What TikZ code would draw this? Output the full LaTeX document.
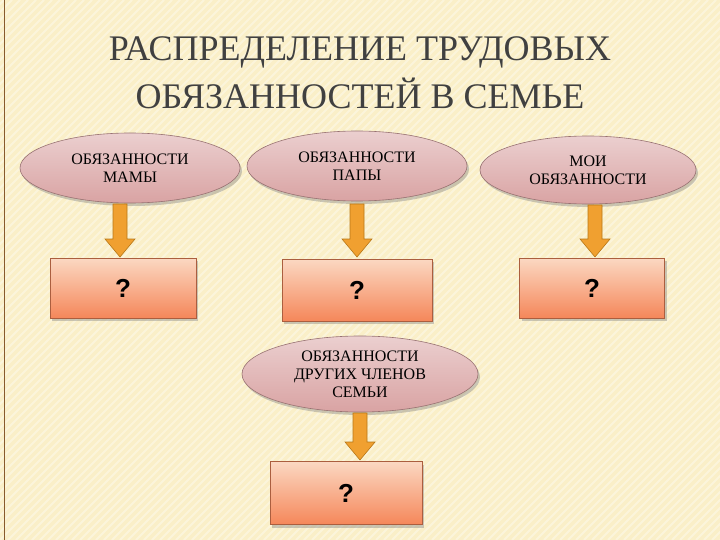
\documentclass[tikz,border=0pt]{standalone}
\usepackage{fontspec}
\setmainfont{Liberation Serif}
\newfontfamily\qfont{Liberation Sans}
\usetikzlibrary{shapes.geometric,shadows}
\definecolor{bg}{HTML}{FAEFC8}
\definecolor{ellA}{HTML}{EBCFCF}
\definecolor{ellB}{HTML}{D9A3A3}
\definecolor{boxA}{HTML}{FBD8C2}
\definecolor{boxB}{HTML}{F5875A}
\definecolor{arr}{HTML}{F0A030}
\definecolor{arrd}{HTML}{B87818}
\tikzset{
  ell/.style={ellipse, draw=ellB!70!black, line width=0.6pt, top color=ellA, bottom color=ellB,
    drop shadow={shadow xshift=2pt,shadow yshift=-3pt,opacity=0.4},
    align=center, font=\fontsize{16}{18}\selectfont, inner sep=0pt},
  qbox/.style={rectangle, draw=boxB!70!black, line width=0.6pt, top color=boxA, bottom color=boxB,
    drop shadow={shadow xshift=2pt,shadow yshift=-3pt,opacity=0.4},
    font=\qfont\bfseries\fontsize{26}{28}\selectfont},
  bigarr/.style={fill=arr, draw=arrd, line width=0.6pt}
}
\newcommand{\downarr}[3]{% x, ytop, ybottom
  \draw[bigarr] (#1-7,#2) -- (#1+7,#2) -- (#1+7,#3-18) -- (#1+15,#3-18) -- (#1,#3) -- (#1-15,#3-18) -- (#1-7,#3-18) -- cycle;}
\begin{document}
\begin{tikzpicture}[x=1pt,y=-1pt]
\useasboundingbox (0,0) rectangle (720,540);
\fill[bg] (0,0) rectangle (720,540);
\begin{scope}
\clip (0,0) rectangle (720,540);
\foreach \i in {-600,-592,...,720} \draw[white,opacity=0.35,line width=2pt] (\i,540) -- (\i+540,0);
\end{scope}
\draw[brown!70!black,line width=1pt] (4,0) -- (4,540);
\node[font=\fontsize{36}{48}\selectfont, align=center, text=black!75] (title) at (360,73)
  {РАСПРЕДЕЛЕНИЕ ТРУДОВЫХ\\ОБЯЗАННОСТЕЙ В СЕМЬЕ};
\node[ell, minimum width=220pt, minimum height=70pt] (m) at (130,168) {ОБЯЗАННОСТИ\\МАМЫ};
\node[ell, minimum width=220pt, minimum height=70pt] (p) at (357,166) {ОБЯЗАННОСТИ\\ПАПЫ};
\node[ell, minimum width=216pt, minimum height=68pt] (me) at (588,170) {МОИ\\ОБЯЗАННОСТИ};
\node[ell, minimum width=236pt, minimum height=76pt] (o) at (360,374) {ОБЯЗАННОСТИ\\ДРУГИХ ЧЛЕНОВ\\СЕМЬИ};
\node[qbox, minimum width=146pt, minimum height=60pt] (qm) at (123,288) {?};
\node[qbox, minimum width=150pt, minimum height=62pt] (qp) at (357,290) {?};
\node[qbox, minimum width=145pt, minimum height=60pt] (qme) at (592,288) {?};
\node[qbox, minimum width=152pt, minimum height=63pt] (qo) at (346,493) {?};
\downarr{120}{204}{257}
\downarr{357}{204}{257}
\downarr{595}{205}{257}
\downarr{360}{413}{460}
\end{tikzpicture}
\end{document}
